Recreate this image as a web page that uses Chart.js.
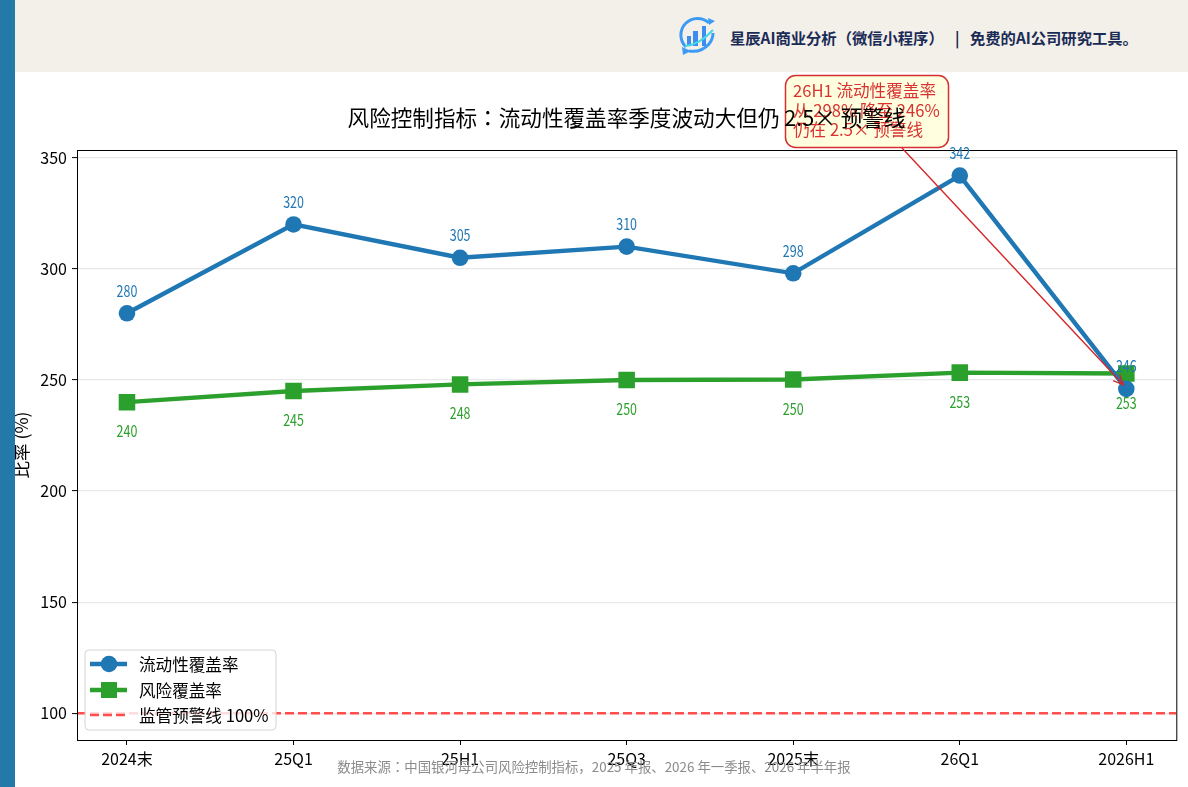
<!DOCTYPE html>
<html>
<head>
<meta charset="utf-8">
<script src="https://cdn.jsdelivr.net/npm/chart.js@4"></script>
<style>
  html, body { margin: 0; padding: 0; background: #fff; }
  body { width: 1188px; height: 787px; position: relative; overflow: hidden; font-family: "Noto Sans CJK JP", sans-serif; }
  #strip { position: absolute; left: 0; top: 0; width: 15px; height: 787px; background: #2379a8; }
  #header { position: absolute; left: 15px; top: 0; width: 1173px; height: 72px; background: #f3efe9; }
  .brand { position: absolute; top: 27px; font-size: 15.3px; line-height: 20px; font-weight: 700; color: #1a2b56; white-space: pre; }
  #logo { position: absolute; left: 677px; top: 14px; }
  #wrap { position: absolute; left: 0; top: 0; width: 1188px; height: 787px; }
  #source { position: absolute; left: 0; width: 1188px; text-align: center; top: 757px; font-size: 13.4px; line-height: 18px; color: #8c8c8c; }
</style>
</head>
<body>
<div id="header"></div>
<svg id="logo" width="40" height="44" viewBox="0 0 40 44">
  <path d="M32 9 A16.5 16.5 0 1 0 9 33" fill="none" stroke="#3d9bf5" stroke-width="3"/>
  <path d="M12 37 Q24 39 32 30 Q36 25 36 19" fill="none" stroke="#3d9bf5" stroke-width="3"/>
  <path d="M5 33 L14 37 L6 41 Z" fill="#3d9bf5"/>
  <path d="M31 4 L38 7 L32 11 Z" fill="#3d9bf5"/>
  <rect x="10" y="22" width="4" height="10" fill="#3d8df0"/>
  <rect x="16" y="17" width="5" height="15" fill="#3d8df0"/>
  <rect x="25" y="12" width="4" height="20" fill="#3d8df0"/>
  <path d="M8 32 Q22 31 36 16" fill="none" stroke="#45d8e8" stroke-width="2"/>
</svg>
<div class="brand" style="left:730px">星辰AI商业分析（微信小程序）</div>
<div class="brand" style="left:955px">|</div>
<div class="brand" style="left:970px">免费的AI公司研究工具。</div>
<div id="wrap"><canvas id="chart" width="1188" height="787"></canvas></div>
<div id="strip"></div>
<div id="source">数据来源：中国银河母公司风险控制指标，2025 年报、2026 年一季报、2026 年半年报</div>
<script>
var categories = ["2024末", "25Q1", "25H1", "25Q3", "2025末", "26Q1", "2026H1"];
var liquidityCoverage = [280, 320, 305, 310, 298, 342, 246];
var riskCoverage = [240, 245, 248, 250, 250.2, 253.3, 252.9];
var warningLevel = [100, 100];
var warningRange = [-0.3, 6.3];
var yTicks = [100, 150, 200, 250, 300, 350];
var titleText = "风险控制指标：流动性覆盖率季度波动大但仍 2.5× 预警线";
var noteLines = ["26H1 流动性覆盖率", "从 298% 降至 246%", "仍在 2.5× 预警线"];

var FONT = '"Noto Sans CJK JP", sans-serif';
var BLUE = '#1f77b4', GREEN = '#2ca02c', RED = '#d62728';

function toPoints(values) {
  return values.map(function (v, i) { return { x: i, y: v }; });
}

function narrowText(c, t, x, y) {
  c.save();
  c.translate(x, y);
  c.scale(0.78, 1);
  c.fillText(t, 0, 0);
  c.restore();
}

// note box and its text go under the title
var noteBox = {
  id: 'noteBox',
  beforeDraw: function (chart) {
    var c = chart.ctx;
    c.save();
    c.beginPath();
    c.roundRect(785.5, 75.5, 163, 72, 10);
    c.fillStyle = '#ffffdf';
    c.fill();
    c.lineWidth = 1.5;
    c.strokeStyle = '#d62f2f';
    c.stroke();
    c.fillStyle = 'rgba(214,39,40,0.95)';
    c.font = '16.6px ' + FONT;
    c.textAlign = 'left';
    c.textBaseline = 'middle';
    noteLines.forEach(function (t, i) {
      c.fillText(t, 793, 91 + i * 19.5);
    });
    c.fillStyle = '#000';
    c.font = '21.6px ' + FONT;
    c.textAlign = 'center';
    c.fillText(titleText, 626.5, 118);
    c.restore();
  }
};

var overlay = {
  id: 'overlay',
  afterDraw: function (chart) {
    var c = chart.ctx, a = chart.chartArea;
    var xs = chart.scales.x, ys = chart.scales.y;
    c.save();

    // frame
    c.strokeStyle = '#000';
    c.lineWidth = 1;
    c.strokeRect(a.left + 0.5, a.top + 0.5, a.right - a.left, a.bottom - a.top);

    // value labels
    c.font = '16px ' + FONT;
    c.textAlign = 'center';
    c.textBaseline = 'middle';
    liquidityCoverage.forEach(function (v, i) {
      c.fillStyle = BLUE;
      narrowText(c, String(Math.round(v)), xs.getPixelForValue(i), ys.getPixelForValue(v) - 22.5);
    });
    riskCoverage.forEach(function (v, i) {
      c.fillStyle = GREEN;
      narrowText(c, String(Math.round(v)), xs.getPixelForValue(i), ys.getPixelForValue(v) + 29);
    });

    // arrow from the note to the last point
    var tx = xs.getPixelForValue(6) - 3, ty = ys.getPixelForValue(liquidityCoverage[6]) - 4;
    var sx = 902, sy = 148;
    var ang = Math.atan2(ty - sy, tx - sx);
    c.strokeStyle = RED;
    c.lineWidth = 1.4;
    c.beginPath();
    c.moveTo(sx, sy);
    c.lineTo(tx, ty);
    c.moveTo(tx - 11 * Math.cos(ang - 0.42), ty - 11 * Math.sin(ang - 0.42));
    c.lineTo(tx, ty);
    c.lineTo(tx - 11 * Math.cos(ang + 0.42), ty - 11 * Math.sin(ang + 0.42));
    c.stroke();

    // legend, inside the plot at lower left
    c.beginPath();
    c.roundRect(85, 650, 191, 80, 4);
    c.fillStyle = 'rgba(255,255,255,0.8)';
    c.fill();
    c.strokeStyle = '#d4d4d4';
    c.lineWidth = 1;
    c.stroke();
    c.textAlign = 'left';
    var rows = [664, 690, 715];
    chart.data.datasets.forEach(function (d, i) {
      var y = rows[i];
      c.strokeStyle = d.borderColor;
      c.fillStyle = d.borderColor;
      c.lineWidth = d.borderWidth;
      c.setLineDash(d.borderDash || []);
      c.beginPath();
      c.moveTo(90, y);
      c.lineTo(127, y);
      c.stroke();
      c.setLineDash([]);
      if (d.pointStyle === 'circle') {
        c.beginPath();
        c.arc(109, y, 8.3, 0, Math.PI * 2);
        c.fill();
      } else if (d.pointStyle === 'rect') {
        c.fillRect(101, y - 8, 16, 16);
      }
      c.fillStyle = '#000';
      c.font = '16.6px ' + FONT;
      c.fillText(d.label, 139, y + 1);
    });
    c.restore();
  }
};

new Chart(document.getElementById('chart').getContext('2d'), {
  type: 'line',
  data: {
    datasets: [
      {
        label: '流动性覆盖率',
        data: toPoints(liquidityCoverage),
        borderColor: BLUE, backgroundColor: BLUE,
        borderWidth: 4.4, pointStyle: 'circle', pointRadius: 8.3, pointHoverRadius: 8.3, pointBorderWidth: 0,
        tension: 0
      },
      {
        label: '风险覆盖率',
        data: toPoints(riskCoverage),
        borderColor: GREEN, backgroundColor: GREEN,
        borderWidth: 4.4, pointStyle: 'rect', pointRadius: 11.7, pointHoverRadius: 11.7, pointBorderWidth: 0,
        tension: 0
      },
      {
        label: '监管预警线 100%',
        data: warningRange.map(function (x, i) { return { x: x, y: warningLevel[i] }; }),
        borderColor: 'rgba(255,60,60,0.9)', backgroundColor: 'rgba(255,60,60,0.9)',
        borderWidth: 2.4, borderDash: [9, 4], pointRadius: 0, pointHoverRadius: 0,
        tension: 0
      }
    ]
  },
  plugins: [noteBox, overlay],
  options: {
    responsive: false,
    animation: false,
    events: [],
    layout: { padding: { left: 0, right: 11, top: 150, bottom: 0 } },
    plugins: {
      legend: { display: false },
      tooltip: { enabled: false }
    },
    scales: {
      x: {
        type: 'linear',
        min: -0.3,
        max: 6.3,
        afterFit: function (s) { s.height = 47; },
        afterBuildTicks: function (s) {
          s.ticks = categories.map(function (_, i) { return { value: i }; });
        },
        grid: { display: true, drawOnChartArea: false, tickColor: '#000', tickLength: 5, tickWidth: 1 },
        border: { color: '#000' },
        ticks: {
          autoSkip: false, maxRotation: 0, padding: 4, color: '#000',
          font: { family: FONT, size: 16 },
          callback: function (v) { return categories[v]; }
        }
      },
      y: {
        min: 87.95,
        max: 353.5,
        afterFit: function (s) { s.width = 77; },
        afterBuildTicks: function (s) {
          s.ticks = yTicks.map(function (v) { return { value: v }; });
        },
        grid: { color: '#e8e8e8', tickColor: '#000', tickLength: 5, tickWidth: 1, lineWidth: 1.2 },
        border: { color: '#000' },
        ticks: { padding: 5, color: '#000', font: { family: FONT, size: 16 } },
        title: {
          display: true,
          text: '比率 (%)',
          color: '#000',
          font: { family: FONT, size: 17.5 },
          padding: { top: 11, bottom: 0 }
        }
      }
    }
  }
});
</script>
</body>
</html>
